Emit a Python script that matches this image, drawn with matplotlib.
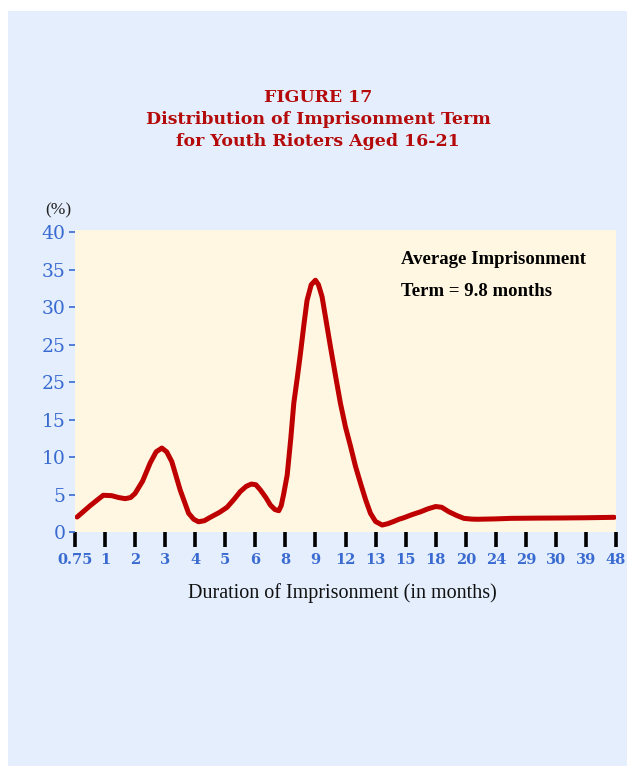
import matplotlib.pyplot as plt
from matplotlib.patches import Rectangle

# category labels along the x axis (months)
months = ["0.75", "1", "2", "3", "4", "5", "6", "8", "9", "12",
          "13", "15", "18", "20", "24", "29", "30", "39", "48"]

# y tick labels as printed in the source (note the repeated "25")
y_ticks = [0, 5, 10, 15, 20, 25, 30, 35, 40]
y_labels = ["0", "5", "10", "15", "25", "25", "30", "35", "40"]

# curve: position along the category axis, percent
curve_pos = [0.07, 0.3, 0.5, 0.75, 0.94, 1.22, 1.45, 1.67, 1.85, 2.0, 2.25,
             2.5, 2.7, 2.89, 3.05, 3.22, 3.5, 3.78, 3.95, 4.11, 4.3, 4.5,
             4.8, 5.06, 5.3, 5.5, 5.7, 5.87, 6.02, 6.17, 6.35, 6.5, 6.65,
             6.78, 6.86, 6.94, 7.06, 7.18, 7.28, 7.4, 7.5, 7.62, 7.72, 7.86,
             8.0, 8.1, 8.22, 8.35, 8.5, 8.67, 8.83, 9.0, 9.17, 9.33, 9.5,
             9.67, 9.83, 10.0, 10.22, 10.4, 10.6, 10.78, 10.94, 11.2, 11.5,
             11.75, 12.0, 12.2, 12.44, 12.7, 12.94, 13.2, 13.39, 14.0, 14.5,
             15.3, 16.17, 17.0, 17.94]
curve_pct = [2.0, 2.8, 3.5, 4.3, 4.9, 4.85, 4.6, 4.45, 4.6, 5.15, 6.8,
             9.2, 10.7, 11.2, 10.7, 9.4, 5.6, 2.5, 1.7, 1.37, 1.5, 1.96,
             2.6, 3.3, 4.4, 5.4, 6.1, 6.4, 6.3, 5.6, 4.6, 3.6, 3.0,
             2.84, 3.5, 5.0, 7.6, 12.5, 17.2, 20.7, 23.8, 27.8, 30.9, 33.0,
             33.6, 33.0, 31.4, 28.3, 24.7, 20.8, 17.2, 14.0, 11.4, 8.8, 6.5,
             4.3, 2.5, 1.4, 0.93, 1.1, 1.4, 1.7, 1.9, 2.3, 2.7,
             3.1, 3.4, 3.3, 2.7, 2.2, 1.82, 1.72, 1.7, 1.75, 1.82,
             1.85, 1.87, 1.9, 1.96]

W, H = 627, 766
fig = plt.figure(figsize=(W / 100, H / 100), dpi=100)
fig.patch.set_facecolor("white")

# light blue panel
fig.patches.append(Rectangle((8 / W, 0), 1 - 8 / W, 1 - 11 / H,
                             transform=fig.transFigure, facecolor="#E4EEFD",
                             edgecolor="none", zorder=-10))

serif = ["Liberation Serif", "DejaVu Serif"]
wide_serif = ["DejaVu Serif", "Liberation Serif"]
red = "#B50A0A"
blue = "#3A6BD0"

for yy, line in [(98, "FIGURE 17"),
                 (120, "Distribution of Imprisonment Term"),
                 (142, "for Youth Rioters Aged 16-21")]:
    fig.text(318 / W, 1 - yy / H, line, ha="center", va="center",
             family=wide_serif, weight="bold", size=12.5, color=red)

ax = fig.add_axes([75 / W, 1 - 532 / H, (616 - 75) / W, (532 - 230) / H])
ax.set_zorder(1)
ax.set_facecolor("#FFF7E1")
ax.plot(curve_pos, curve_pct, color="#BE0000", lw=3.6,
        solid_capstyle="round", solid_joinstyle="round")

ax.set_xlim(0, len(months) - 1)
ax.set_ylim(0, 40.3)
for s in ax.spines.values():
    s.set_visible(False)

ax.set_xticks(range(len(months)))
ax.set_xticklabels(months, family=wide_serif, weight="bold", size=10.5,
                   color=blue)
ax.tick_params(axis="x", length=11, width=2.6, color="black", pad=4,
               direction="out")
ax.set_yticks(y_ticks)
ax.set_yticklabels(y_labels, family=wide_serif, size=13.5, color=blue)
ax.tick_params(axis="y", length=4, width=1.2, color=blue, pad=3)

fig.text(45 / W, 1 - 210 / H, "(%)", ha="left", va="center",
         family=serif, size=12.5, color="#222222")

fig.text(401 / W, 1 - 259 / H, "Average Imprisonment",
         ha="left", va="center", family=serif, weight="bold", size=13.5,
         color="black", zorder=5)
fig.text(401 / W, 1 - 291 / H, "Term = 9.8 months",
         ha="left", va="center", family=serif, weight="bold", size=13.5,
         color="black", zorder=5)

fig.text(342 / W, 1 - 593 / H, "Duration of Imprisonment (in months)",
         ha="center", va="center", family=serif, size=14.5, color="#111111")

fig.savefig("out.png", dpi=100)
plt.close(fig)
